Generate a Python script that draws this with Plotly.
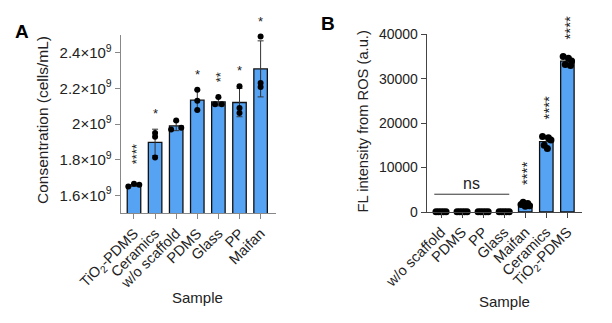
import numpy as np
import plotly.graph_objects as go

W, H = 612, 323

# ---------------- Panel A: cell concentration ----------------
a_categories = ["TiO<sub>2</sub>-PDMS", "Ceramics", "w/o scaffold", "PDMS", "Glass", "PP", "Maifan"]
a_points = [
    [1.651e9, 1.666e9, 1.660e9],
    [1.950e9, 1.930e9, 1.813e9],
    [1.970e9, 2.020e9, 1.980e9],
    [2.193e9, 2.131e9, 2.080e9],
    [2.152e9, 2.112e9, 2.112e9],
    [2.212e9, 2.090e9, 2.062e9],
    [2.491e9, 2.231e9, 2.208e9],
]
a_stars = ["****", "*", "", "*", "**", "*", "*"]
a_tickvals = [1.6e9, 1.8e9, 2.0e9, 2.2e9, 2.4e9]
a_ticktext = ["1.6×10<sup>9</sup>", "1.8×10<sup>9</sup>", "2×10<sup>9</sup>",
              "2.2×10<sup>9</sup>", "2.4×10<sup>9</sup>"]

# ---------------- Panel B: ROS fluorescence ----------------
b_categories = ["w/o scaffold", "PDMS", "PP", "Glass", "Maifan", "Ceramics", "TiO<sub>2</sub>-PDMS"]
b_points = [
    [60, 40, 80, 50, 70],
    [50, 70, 40, 60, 80],
    [70, 50, 60, 40, 80],
    [40, 60, 80, 70, 50],
    [2200, 1900, 1700, 1400, 1300],
    [17000, 16700, 16200, 15000, 14300],
    [35000, 34600, 34000, 33200, 33000],
]
b_stars = ["", "", "", "", "****", "****", "****"]
b_tickvals = [0, 10000, 20000, 30000, 40000]
b_ticktext = ["0", "10000", "20000", "30000", "40000"]

# horizontal spread of the individual points (scatter-dot layout)
a_offsets = [[-0.27, 0.0, 0.25], [0, 0, 0], [-0.24, 0, 0.24], [0, 0, 0],
             [0, -0.16, 0.16], [0, 0, 0], [0, 0, 0]]
b_offsets = [[-0.24, -0.12, 0, 0.12, 0.24]] * 4 + [
    [-0.1, 0.12, -0.2, 0.2, 0.0], [-0.18, 0.1, 0.22, -0.1, 0.05],
    [-0.2, 0.05, 0.2, -0.1, 0.15]]

BAR = "#56A2F3"
FONT = "Liberation Sans, Arial, sans-serif"
TXT = "#222"


def px_x(p):
    return p / W


def px_y(p):
    return 1 - p / H


fig = go.Figure()


def add_panel(cats, pts, offs, xa, ya, msize):
    idx = list(range(len(cats)))
    means = [float(np.mean(p)) for p in pts]
    sds = [float(np.std(p, ddof=1)) for p in pts]
    fig.add_trace(go.Bar(
        x=idx, y=means, width=0.64, xaxis=xa, yaxis=ya,
        marker=dict(color=BAR, line=dict(color="#111", width=1.3)),
        error_y=dict(type="data", array=sds, visible=True, color="#333",
                     thickness=1, width=3),
        showlegend=False))
    xs, ys = [], []
    for i, (p, o) in enumerate(zip(pts, offs)):
        for v, d in zip(p, o):
            xs.append(i + d)
            ys.append(v)
    fig.add_trace(go.Scatter(
        x=xs, y=ys, mode="markers", xaxis=xa, yaxis=ya, cliponaxis=False,
        marker=dict(color="black", size=msize), showlegend=False))
    return means, sds


a_means, a_sds = add_panel(a_categories, a_points, a_offsets, "x", "y", 6)
b_means, b_sds = add_panel(b_categories, b_points, b_offsets, "x2", "y2", 7)

axis_common = dict(showgrid=False, zeroline=False, showline=True, automargin=False,
                   ticks="outside", ticklen=5, tickwidth=1)

fig.update_layout(
    width=W, height=H, margin=dict(l=0, r=0, t=0, b=0, autoexpand=False),
    plot_bgcolor="white", paper_bgcolor="white",
    font=dict(family=FONT, color=TXT),
    xaxis=dict(domain=[px_x(120.7), px_x(276)], range=[-0.63, 6.73],
               tickvals=list(range(7)), ticktext=a_categories, tickangle=-45,
               tickfont=dict(family=FONT, size=14.5, color=TXT),
               linecolor="#888", tickcolor="#888", anchor="y", **axis_common),
    yaxis=dict(domain=[px_y(213.3), px_y(35)], range=[1.5e9, 2.5e9],
               tickvals=a_tickvals, ticktext=a_ticktext,
               tickfont=dict(family=FONT, size=15, color=TXT),
               linecolor="#888", tickcolor="#888", anchor="x", **axis_common),
    xaxis2=dict(domain=[px_x(426.7), px_x(581.7)], range=[-0.68, 6.68],
                tickvals=list(range(7)), ticktext=b_categories, tickangle=-45,
                tickfont=dict(family=FONT, size=14.5, color=TXT),
                linecolor="#444", tickcolor="#444", anchor="y2", **axis_common),
    yaxis2=dict(domain=[px_y(212), px_y(34.3)], range=[0, 40000],
                tickvals=b_tickvals, ticktext=b_ticktext,
                tickfont=dict(family=FONT, size=14, color=TXT),
                linecolor="#444", tickcolor="#444", anchor="x2", **axis_common),
)

annotations = []


def star_annots(stars, pts, means, sds, xref, yref, size):
    for i, s in enumerate(stars):
        if not s:
            continue
        top = max(means[i] + sds[i], max(pts[i]))
        n = len(s)
        shift = 11 + 4.6 * n
        annotations.append(dict(
            x=i, y=top, xref=xref, yref=yref, text=s, showarrow=False,
            textangle=-90 if n > 1 else 0, yanchor="middle", xanchor="center",
            yshift=shift, xshift=2 if n > 1 else 0,
            font=dict(family=FONT, size=size, color=TXT)))


star_annots(a_stars, a_points, a_means, a_sds, "x", "y", 13)
star_annots(b_stars, b_points, b_means, b_sds, "x2", "y2", 15)

# "ns" bracket over the four low groups in panel B
fig.add_shape(type="line", xref="x2", yref="y2", x0=-0.32, x1=3.24,
              y0=4000, y1=4000, line=dict(color="#333", width=1))
annotations.append(dict(x=1.46, y=4000, xref="x2", yref="y2", text="ns",
                        showarrow=False, yanchor="bottom", xanchor="center",
                        yshift=0, font=dict(family=FONT, size=16, color=TXT)))


def label(x, y, text, size, angle=0, color=TXT):
    return dict(x=px_x(x), y=px_y(y), xref="paper", yref="paper", text=text,
                textangle=angle, showarrow=False, xanchor="center",
                yanchor="middle", font=dict(family=FONT, size=size, color=color))


# axis titles and panel letters
annotations += [
    label(42, 120, "Consentration (cells/mL)", 15.5, -90),
    label(362, 121.5, "FL intensity from ROS (a.u.)", 14.7, -90),
    label(197, 297, "Sample", 15),
    label(504, 301, "Sample", 15),
    label(22, 31, "<b>A</b>", 19, color="black"),
    label(328, 24, "<b>B</b>", 19, color="black"),
]
fig.update_layout(annotations=annotations)

fig.write_html("out.html")
